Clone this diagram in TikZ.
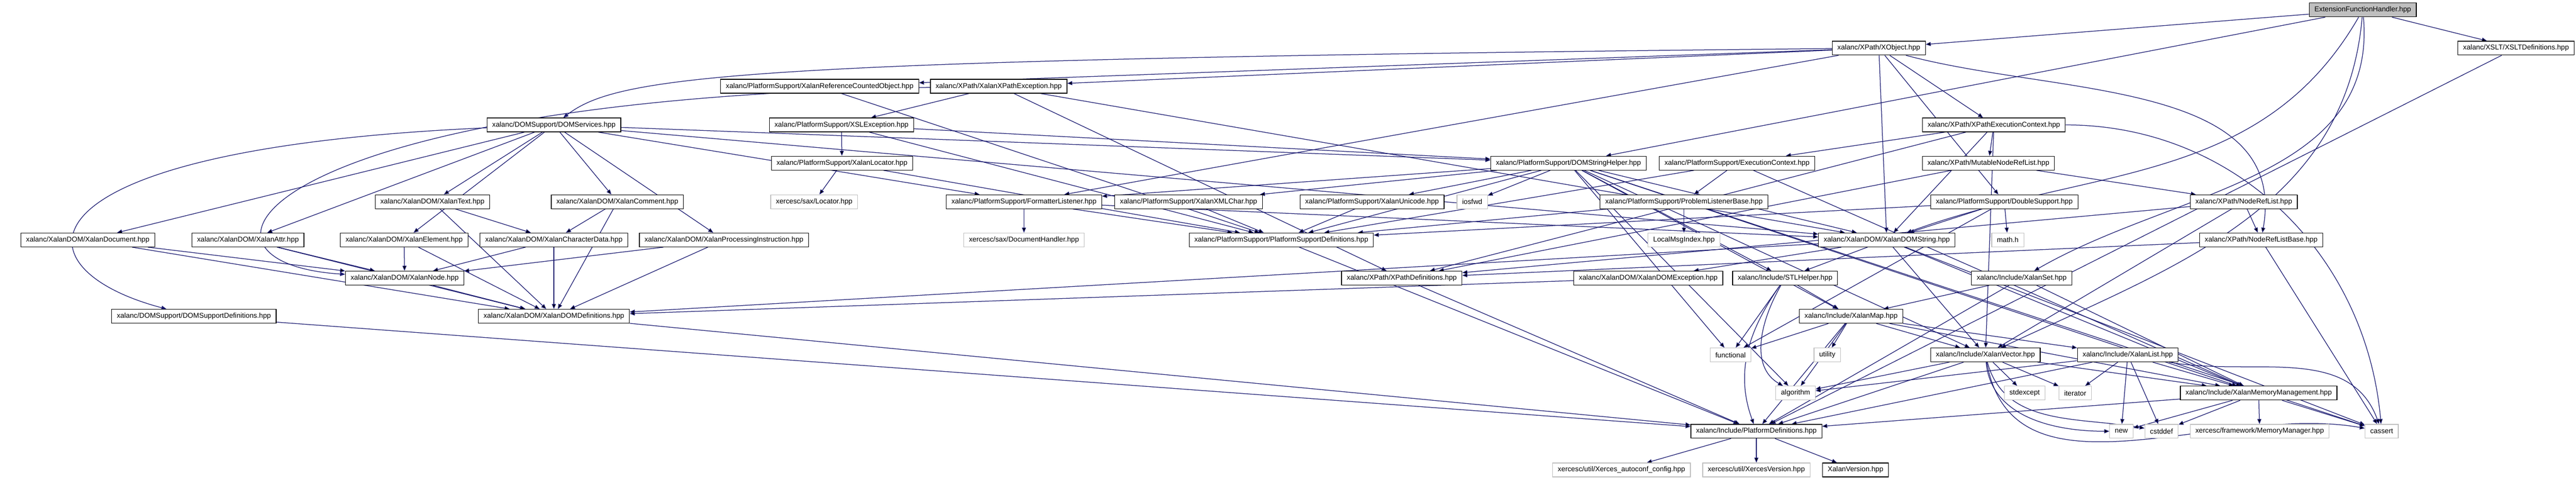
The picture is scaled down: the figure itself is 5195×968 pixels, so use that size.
\documentclass[tikz,border=0pt]{standalone}
\usepackage{fontspec}
\setmainfont{Liberation Sans}
\usetikzlibrary{arrows.meta, backgrounds}
\definecolor{depblue}{HTML}{191970}
\definecolor{sysgray}{HTML}{BFBFBF}
\tikzset{
    ->, % every connector is an include
    >={Triangle[length=10pt,width=8pt]}, % filled heads as in the doxygen graph
    x=1pt, y=-1pt, % pixel coordinates, y going down
    file/.style={draw=black, line width=1.3pt, fill=white, minimum height=28pt, inner xsep=10.5pt, inner ysep=0pt, font=\fontsize{14.3}{17}\selectfont}, % a header of the project
    sysfile/.style={file, draw=sysgray}, % a header from outside
    rootfile/.style={file, fill=sysgray}, % the file the graph is about
    dep/.style={draw=depblue, line width=1.3pt}, % an include
}
\begin{document}
\begin{tikzpicture}
\useasboundingbox (0,0) rectangle (5195,968);
% rows 0 to 4
\node[rootfile] (EFH) at (4765,20) {ExtensionFunctionHandler.hpp};
\node[file] (XSLTDef) at (5074,97) {xalanc/XSLT/XSLTDefinitions.hpp};
\node[file] (XObj) at (3789,97) {xalanc/XPath/XObject.hpp};
\node[file] (RefCnt) at (1653,174) {xalanc/PlatformSupport/XalanReferenceCountedObject.hpp};
\node[file] (XPathExc) at (2014,174) {xalanc/XPath/XalanXPathException.hpp};
\node[file] (DOMSvc) at (1117,252) {xalanc/DOMSupport/DOMServices.hpp};
\node[file] (XSLExc) at (1697,252) {xalanc/PlatformSupport/XSLException.hpp};
\node[file] (XPEC) at (4021,252) {xalanc/XPath/XPathExecutionContext.hpp};
\node[file] (Loc) at (1698,329) {xalanc/PlatformSupport/XalanLocator.hpp};
\node[file] (DSH) at (3163,329) {xalanc/PlatformSupport/DOMStringHelper.hpp};
\node[file] (ExecCtx) at (3503,329) {xalanc/PlatformSupport/ExecutionContext.hpp};
\node[file] (MNRL) at (4010,329) {xalanc/XPath/MutableNodeRefList.hpp};
% row 5
\node[file] (XText) at (872,407) {xalanc/XalanDOM/XalanText.hpp};
\node[file] (XComment) at (1245,407) {xalanc/XalanDOM/XalanComment.hpp};
\node[sysfile] (SaxLoc) at (1642,407) {xercesc/sax/Locator.hpp};
\node[file] (FmtL) at (2065,407) {xalanc/PlatformSupport/FormatterListener.hpp};
\node[file] (XMLChar) at (2397,407) {xalanc/PlatformSupport/XalanXMLChar.hpp};
\node[file] (Unicode) at (2767,407) {xalanc/PlatformSupport/XalanUnicode.hpp};
\node[sysfile] (iosfwd) at (2969,407) {iosfwd};
\node[file] (PLB) at (3396,407) {xalanc/PlatformSupport/ProblemListenerBase.hpp};
\node[file] (DblSup) at (4042,407) {xalanc/PlatformSupport/DoubleSupport.hpp};
\node[file] (NRL) at (4525,407) {xalanc/XPath/NodeRefList.hpp};
% row 6
\node[file] (XDoc) at (177,484) {xalanc/XalanDOM/XalanDocument.hpp};
\node[file] (XAttr) at (500,484) {xalanc/XalanDOM/XalanAttr.hpp};
\node[file] (XElem) at (815,484) {xalanc/XalanDOM/XalanElement.hpp};
\node[file] (XCData) at (1117,484) {xalanc/XalanDOM/XalanCharacterData.hpp};
\node[file] (XPI) at (1460,484) {xalanc/XalanDOM/XalanProcessingInstruction.hpp};
\node[sysfile] (DocH) at (2065,484) {xercesc/sax/DocumentHandler.hpp};
\node[file] (PSDef) at (2584,484) {xalanc/PlatformSupport/PlatformSupportDefinitions.hpp};
\node[sysfile] (LMI) at (3396,484) {LocalMsgIndex.hpp};
\node[file] (XDStr) at (3805,484) {xalanc/XalanDOM/XalanDOMString.hpp};
\node[sysfile] (mathh) at (4049,484) {math.h};
\node[file] (NRLB) at (4560,484) {xalanc/XPath/NodeRefListBase.hpp};
% rows 7 and 8
\node[file] (XNode) at (816,561) {xalanc/XalanDOM/XalanNode.hpp};
\node[file] (XPDef) at (2827,561) {xalanc/XPath/XPathDefinitions.hpp};
\node[file] (XDExc) at (3324,561) {xalanc/XalanDOM/XalanDOMException.hpp};
\node[file] (STLH) at (3600,561) {xalanc/Include/STLHelper.hpp};
\node[file] (XSet) at (4077,561) {xalanc/Include/XalanSet.hpp};
\node[file] (DSDef) at (391,638) {xalanc/DOMSupport/DOMSupportDefinitions.hpp};
\node[file] (XDDef) at (1117,638) {xalanc/XalanDOM/XalanDOMDefinitions.hpp};
\node[file] (XMap) at (3733,638) {xalanc/Include/XalanMap.hpp};
% rows 9 to 12
\node[sysfile] (functional) at (3490,716) {functional};
\node[sysfile] (utility) at (3685,716) {utility};
\node[file] (XVec) at (4004,716) {xalanc/Include/XalanVector.hpp};
\node[file] (XList) at (4291,716) {xalanc/Include/XalanList.hpp};
\node[sysfile] (algorithm) at (3621,793) {algorithm};
\node[sysfile] (stdexcept) at (4083,793) {stdexcept};
\node[sysfile] (iterator) at (4185,793) {iterator};
\node[file] (XMM) at (4555,793) {xalanc/Include/XalanMemoryManagement.hpp};
\node[file] (PDef) at (3542,870) {xalanc/Include/PlatformDefinitions.hpp};
\node[sysfile] (new) at (4278,870) {new};
\node[sysfile] (cstddef) at (4359,870) {cstddef};
\node[sysfile] (MemMgr) at (4557,870) {xercesc/framework/MemoryManager.hpp};
\node[sysfile] (cassert) at (4803,870) {cassert};
\node[sysfile] (XAC) at (3270,948) {xercesc/util/Xerces\_autoconf\_config.hpp};
\node[sysfile] (XVer) at (3542,948) {xercesc/util/XercesVersion.hpp};
\node[file] (XalanVer) at (3742,948) {XalanVersion.hpp};
% includes, kept behind the boxes
\begin{pgfonlayer}{background}
\draw[dep] (EFH) edge (XSLTDef) (EFH) edge (XObj) (EFH) edge (DSH)
    (EFH) edge[out=240,in=20] (XDStr) (EFH) edge[out=275,in=30] (XSet) (EFH) edge[out=265,in=25] (XVec)
    (XSLTDef) edge (PDef)
    (XObj) edge (RefCnt) (XObj) edge (XPathExc)
    (XObj) edge (XPEC) (XObj) edge (FmtL) (XObj) edge (XDStr)
    (XObj) edge (DblSup) (XObj) edge[out=-15,in=80] (NRLB)
    (RefCnt) edge (PSDef)
    (XPathExc) edge (XSLExc) (XPathExc) edge (XDStr)
    (XPathExc) edge (XPDef)
    (DOMSvc) edge (XDoc) (DOMSvc) edge (XAttr) (DOMSvc) edge (XText)
    (DOMSvc) edge (XElem) (DOMSvc) edge (XComment) (DOMSvc) edge (XPI)
    (DOMSvc) edge (DSH) (DOMSvc) edge (FmtL)
    (DOMSvc) edge (XDStr)
    (XSLExc) edge (Loc) (XSLExc) edge (PSDef) (XSLExc) edge (DSH)
    (XPEC) edge (ExecCtx) (XPEC) edge (MNRL) (XPEC) edge (XDStr)
    (XPEC) edge (XPDef) (XPEC) edge (XVec) (XPEC) edge[out=0,in=95] (cassert)
    (Loc) edge (SaxLoc) (Loc) edge (PSDef)
    (DSH) edge (FmtL) (DSH) edge (XMLChar) (DSH) edge (Unicode)
    (DSH) edge (iosfwd) (DSH) edge (PSDef) (DSH) edge (XDStr)
    (DSH) edge (functional) (DSH) edge (STLH) (DSH) edge (XMap)
    (DSH) edge (algorithm) (DSH) edge (cassert) (DSH) edge (XVec)
    (DSH) edge (XMM)
    (ExecCtx) edge (PLB) (ExecCtx) edge (PSDef) (ExecCtx) edge (XMM)
    (MNRL) edge (NRL) (MNRL) edge (XPDef)
    (XText) edge (XCData) (XText) edge (XDDef)
    (XComment) edge (XCData) (XComment) edge (XDDef)
    (FmtL) edge (DocH) (FmtL) edge (PSDef) (FmtL) edge (XDStr)
    (XMLChar) edge (PSDef)
    (Unicode) edge (PSDef)
    (PLB) edge (PSDef) (PLB) edge (LMI)
    (DblSup) edge (PSDef) (DblSup) edge (XDStr) (DblSup) edge (mathh)
    (DblSup) edge (functional)
    (NRL) edge (NRLB) (NRL) edge (XPDef) (NRL) edge (XVec)
    (XDoc) edge (XNode) (XDoc) edge (XDDef)
    (XAttr) edge (XNode) (XAttr) edge (XDDef)
    (XElem) edge (XNode) (XElem) edge (XDDef)
    (XCData) edge (XNode) (XCData) edge (XDDef)
    (XPI) edge (XNode) (XPI) edge (XDDef)
    (PSDef) edge (PDef)
    (XDStr) edge (XDDef) (XDStr) edge (XDExc) (XDStr) edge (STLH)
    (XDStr) edge (XVec) (XDStr) edge (XMM) (XDStr) edge (cassert)
    (NRLB) edge (XPDef) (NRLB) edge (cassert)
    (XNode) edge (XDDef)
    (XPDef) edge (PDef)
    (XDExc) edge (XDDef)
    (STLH) edge (functional) (STLH) edge[out=240,in=150] (algorithm) (STLH) edge (XMap)
    (STLH) edge[out=235,in=110] (PDef)
    (XSet) edge (XMap) (XSet) edge (PDef) (XSet) edge (XMM)
    (DSDef) edge (PDef)
    (XDDef) edge (PDef)
    (XMap) edge (functional) (XMap) edge (utility) (XMap) edge (algorithm)
    (XMap) edge (PDef) (XMap) edge (XVec) (XMap) edge (XList)
    (XMap) edge (XMM)
    (XVec) edge (PDef) (XVec) edge (XMM) (XVec) edge (algorithm)
    (XVec) edge (stdexcept) (XVec) edge (iterator) (XVec) edge[out=-80,in=170] (cassert)
    (XVec) edge[out=-85,in=180] (new) (XVec) edge[out=-75,in=170] (cstddef)
    (XList) edge (XMM) (XList) edge (PDef) (XList) edge (iterator)
    (XList) edge (new) (XList) edge (cstddef) (XList) edge[out=-10,in=110] (cassert)
    (XList) edge (algorithm)
    (XMM) edge (PDef) (XMM) edge (new) (XMM) edge (cstddef)
    (XMM) edge (MemMgr) (XMM) edge (cassert)
    (PDef) edge (XAC) (PDef) edge (XVer) (PDef) edge (XalanVer);
% the long ways round
\draw[dep] (XObj) .. controls (1500,120) and (1250,150) .. (DOMSvc);
\draw[dep] (XPathExc) .. controls (500,200) and (330,530) .. (XNode);
\draw[dep] (DOMSvc) .. controls (20,300) and (20,540) .. (DSDef);
\end{pgfonlayer}
\end{tikzpicture}
\end{document}
